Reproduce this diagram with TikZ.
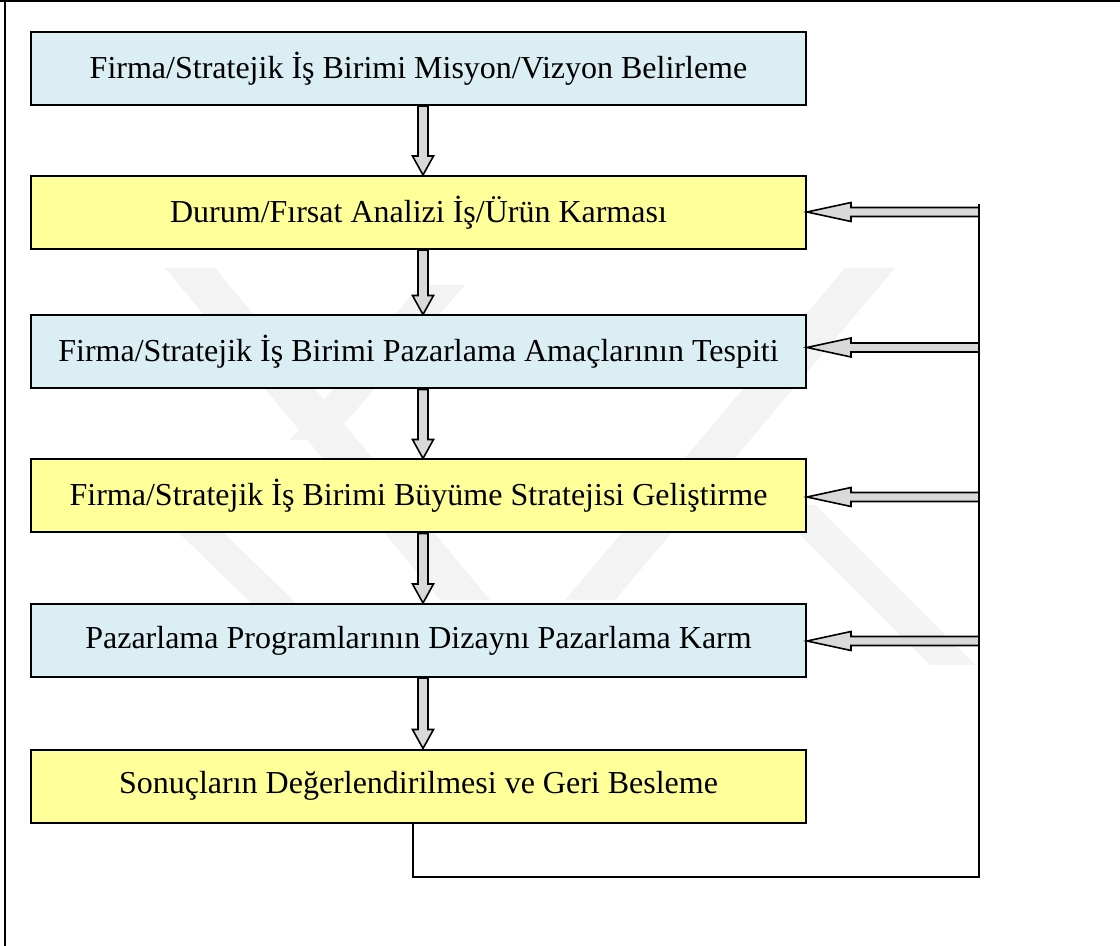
\documentclass[tikz,border=0pt]{standalone}
\usepackage{fontspec}
\setmainfont{Liberation Serif}
\usetikzlibrary{calc}
\definecolor{boxblue}{HTML}{DAEEF3}
\definecolor{boxyellow}{HTML}{FFFF99}
\definecolor{arrowgray}{HTML}{D9D9D9}
\definecolor{wmgray}{HTML}{F3F3F3}
\tikzset{
  stepbox/.style={draw=black, line width=1pt, minimum width=387.5pt, minimum height=36.5pt,
    inner sep=0pt, font=\fontsize{16}{19}\selectfont},
  bluebox/.style={stepbox, fill=boxblue},
  yellowbox/.style={stepbox, fill=boxyellow},
  barrow/.style={draw=black, line width=0.8pt, fill=arrowgray, line join=miter},
  fbline/.style={draw=black, line width=1pt},
  wmband/.style={draw=none, fill=wmgray}
}
\newcommand{\vblock}[2]{%
  \draw[barrow] ($(#1)+(-5,0)$) -- ($(#1)+(5,0)$) -- ($(#2)+(5,-19)$) -- ($(#2)+(10.5,-19)$)
    -- (#2) -- ($(#2)+(-10.5,-19)$) -- ($(#2)+(-5,-19)$) -- cycle;}
\newcommand{\hblock}[2]{%
  \draw[barrow] ($(#1)+(0,-4.5)$) -- ($(#2)+(44,-4.5)$) -- ($(#2)+(44,-9.5)$) -- (#2)
    -- ($(#2)+(44,9.5)$) -- ($(#2)+(44,4.5)$) -- ($(#1)+(0,4.5)$) -- cycle;}
\begin{document}
\begin{tikzpicture}[x=0.5pt,y=-0.5pt]
\useasboundingbox (0,0) rectangle (1120,946);
% watermark (faint)
\fill[wmband] (165,268) -- (215,268) -- (490,600) -- (440,600) -- cycle;
\fill[wmband] (845,268) -- (895,268) -- (615,600) -- (565,600) -- cycle;
\fill[wmband] (420,285) -- (465,285) -- (330,440) -- (290,440) -- cycle;
\fill[wmband] (770,505) -- (815,505) -- (975,665) -- (930,665) -- cycle;
\fill[wmband] (150,505) -- (195,505) -- (360,665) -- (315,665) -- cycle;
% outer frame (left and top)
\draw[line width=1pt] (5,0) -- (5,946);
\draw[line width=1pt] (0,1) -- (1120,1);
% boxes
\node[bluebox]   (b1) at (418.5,68.5) {Firma/Stratejik İş Birimi Misyon/Vizyon Belirleme};
\node[yellowbox] (b2) at (418.5,212.5) {Durum/Fırsat Analizi İş/Ürün Karması};
\node[bluebox]   (b3) at (418.5,352) {Firma/Stratejik İş Birimi Pazarlama Amaçlarının Tespiti};
\node[yellowbox] (b4) at (418.5,496) {Firma/Stratejik İş Birimi Büyüme Stratejisi Geliştirme};
\node[bluebox]   (b5) at (418.5,640.5) {Pazarlama Programlarının Dizaynı Pazarlama Karm};
\node[yellowbox] (b6) at (418.5,786) {Sonuçların Değerlendirilmesi ve Geri Besleme};
% vertical block arrows
\foreach \a/\b in {b1/b2,b2/b3,b3/b4,b4/b5,b5/b6}{
  \coordinate (s-\a) at ($(\a.south)+(4.5,0)$);
  \coordinate (e-\a) at (s-\a |- \b.north);
  \vblock{s-\a}{e-\a}
}
% feedback loop
\coordinate (fbs) at ($(b6.south)+(-5.5,0)$);
\coordinate (fbc) at (979,877);
\coordinate (ftop) at (979,204);
\draw[fbline] (fbs) |- (fbc) -- (ftop);
% horizontal feedback arrows
\foreach \b/\yy in {b2/212,b3/347.5,b4/497,b5/641}{
  \coordinate (r-\b) at (979,\yy);
  \coordinate (t-\b) at (\b.east |- r-\b);
  \hblock{r-\b}{t-\b}
}
\end{tikzpicture}
\end{document}
